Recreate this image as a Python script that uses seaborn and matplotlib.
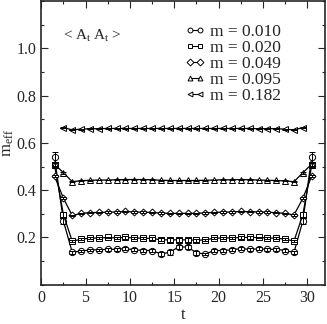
import numpy as np
import pandas as pd
import seaborn as sns
import matplotlib.pyplot as plt
from matplotlib.ticker import MultipleLocator

sns.set_style("ticks")
plt.rcParams['font.family'] = ['Liberation Serif', 'DejaVu Serif']
plt.rcParams['mathtext.fontset'] = 'custom'
plt.rcParams['mathtext.rm'] = 'Liberation Serif'
plt.rcParams['mathtext.it'] = 'Liberation Serif'

# time slices
t_full = [1.5 + i for i in range(30)]
t_short = [2.5 + i for i in range(28)]

# effective mass per quark mass
m_010 = [0.540, 0.270, 0.137, 0.143, 0.147, 0.148, 0.150, 0.150, 0.153, 0.148,
         0.145, 0.145, 0.130, 0.138, 0.160, 0.160, 0.135, 0.130, 0.145, 0.145,
         0.148, 0.153, 0.150, 0.152, 0.150, 0.150, 0.145, 0.137, 0.270, 0.540]
e_010 = [0.020, 0.012, 0.005, 0.005, 0.005, 0.005, 0.006, 0.006, 0.006, 0.006,
         0.006, 0.006, 0.008, 0.010, 0.010, 0.010, 0.008, 0.006, 0.006, 0.006,
         0.006, 0.006, 0.006, 0.006, 0.005, 0.005, 0.005, 0.005, 0.012, 0.020]

m_020 = [0.505, 0.297, 0.184, 0.193, 0.197, 0.198, 0.200, 0.198, 0.200, 0.198,
         0.197, 0.196, 0.190, 0.190, 0.190, 0.190, 0.188, 0.190, 0.197, 0.198,
         0.198, 0.200, 0.200, 0.200, 0.198, 0.197, 0.193, 0.185, 0.297, 0.505]
e_020 = [0.012, 0.010, 0.004, 0.004, 0.004, 0.004, 0.004, 0.004, 0.005, 0.005,
         0.005, 0.005, 0.006, 0.007, 0.008, 0.008, 0.006, 0.005, 0.005, 0.005,
         0.005, 0.005, 0.005, 0.004, 0.004, 0.004, 0.004, 0.004, 0.010, 0.012]

m_049 = [0.460, 0.366, 0.293, 0.302, 0.305, 0.306, 0.307, 0.308, 0.310, 0.308,
         0.307, 0.306, 0.303, 0.302, 0.302, 0.302, 0.302, 0.304, 0.306, 0.307,
         0.308, 0.310, 0.309, 0.308, 0.307, 0.305, 0.302, 0.295, 0.366, 0.460]
e_049 = [0.006, 0.005, 0.003, 0.003, 0.003, 0.003, 0.003, 0.003, 0.003, 0.003,
         0.003, 0.003, 0.003, 0.003, 0.003, 0.003, 0.003, 0.003, 0.003, 0.003,
         0.003, 0.003, 0.003, 0.003, 0.003, 0.003, 0.003, 0.003, 0.005, 0.006]

m_095 = [0.510, 0.474, 0.436, 0.440, 0.442, 0.443, 0.443, 0.444, 0.445, 0.445,
         0.445, 0.444, 0.442, 0.441, 0.441, 0.441, 0.441, 0.442, 0.443, 0.444,
         0.444, 0.445, 0.444, 0.443, 0.442, 0.441, 0.439, 0.436, 0.474, 0.510]
e_095 = [0.008, 0.004, 0.002, 0.002, 0.002, 0.002, 0.002, 0.002, 0.002, 0.002,
         0.002, 0.002, 0.002, 0.002, 0.002, 0.002, 0.002, 0.002, 0.002, 0.002,
         0.002, 0.002, 0.002, 0.002, 0.002, 0.002, 0.002, 0.002, 0.004, 0.008]

m_182 = [0.665, 0.655, 0.658, 0.660, 0.660, 0.661, 0.661, 0.661, 0.661, 0.661,
         0.661, 0.661, 0.661, 0.661, 0.661, 0.661, 0.661, 0.661, 0.661, 0.661,
         0.661, 0.661, 0.660, 0.660, 0.660, 0.658, 0.655, 0.665]
e_182 = [0.002] * 28

labels = ['m = 0.010', 'm = 0.020', 'm = 0.049', 'm = 0.095', 'm = 0.182']
markers = ['o', 's', 'D', '^', '<']
msizes = [4.5, 4.0, 3.5, 4.5, 4.5]

series = [(t_full, m_010, e_010), (t_full, m_020, e_020), (t_full, m_049, e_049),
          (t_full, m_095, e_095), (t_short, m_182, e_182)]

fig = plt.figure(figsize=(3.27, 3.24), dpi=100)
ax = fig.add_axes([0.126, 0.121, 0.868, 0.876])

for (t, y, e), lab, mk, ms in zip(series, labels, markers, msizes):
    df = pd.DataFrame({'t': t, 'meff': y})
    ax.errorbar(t, y, yerr=e, fmt='none', ecolor='black', elinewidth=0.7,
                capsize=2.2, capthick=0.7, zorder=4)
    sns.lineplot(data=df, x='t', y='meff', ax=ax, color='black', lw=0.9,
                 marker=mk, markersize=ms, markerfacecolor='white',
                 markeredgecolor='black', markeredgewidth=0.7, label=lab,
                 zorder=3)

ax.set_xlim(0, 32)
ax.set_ylim(0, 1.2)
ax.xaxis.set_major_locator(MultipleLocator(5))
ax.xaxis.set_minor_locator(MultipleLocator(2.5))
ax.set_yticks([0.2, 0.4, 0.6, 0.8, 1.0])
ax.yaxis.set_minor_locator(MultipleLocator(0.1))
ax.tick_params(which='both', direction='in', top=True, right=True, labelsize=11.5)
ax.tick_params(which='major', length=5, width=0.8)
ax.tick_params(which='minor', length=2.5, width=0.8)
for s in ax.spines.values():
    s.set_linewidth(1.2)

ax.set_xlabel('t', fontsize=12, labelpad=1)
ax.set_ylabel(r'm$_{\rm eff}$', fontsize=12, labelpad=0)

ax.text(0.077, 0.875, r'< A$_{\rm t}$ A$_{\rm t}$ >', transform=ax.transAxes,
        fontsize=11, va='center', ha='left')

leg = ax.legend(loc='upper left', bbox_to_anchor=(0.505, 0.92), frameon=False,
                fontsize=12.5, numpoints=2, handlelength=1.2, handletextpad=0.25,
                labelspacing=0.0, borderpad=0, borderaxespad=0)
for h in leg.legend_handles:
    h.set_markersize(3.5)
    h.set_linewidth(0.8)

fig.savefig('out.png', dpi=100)
